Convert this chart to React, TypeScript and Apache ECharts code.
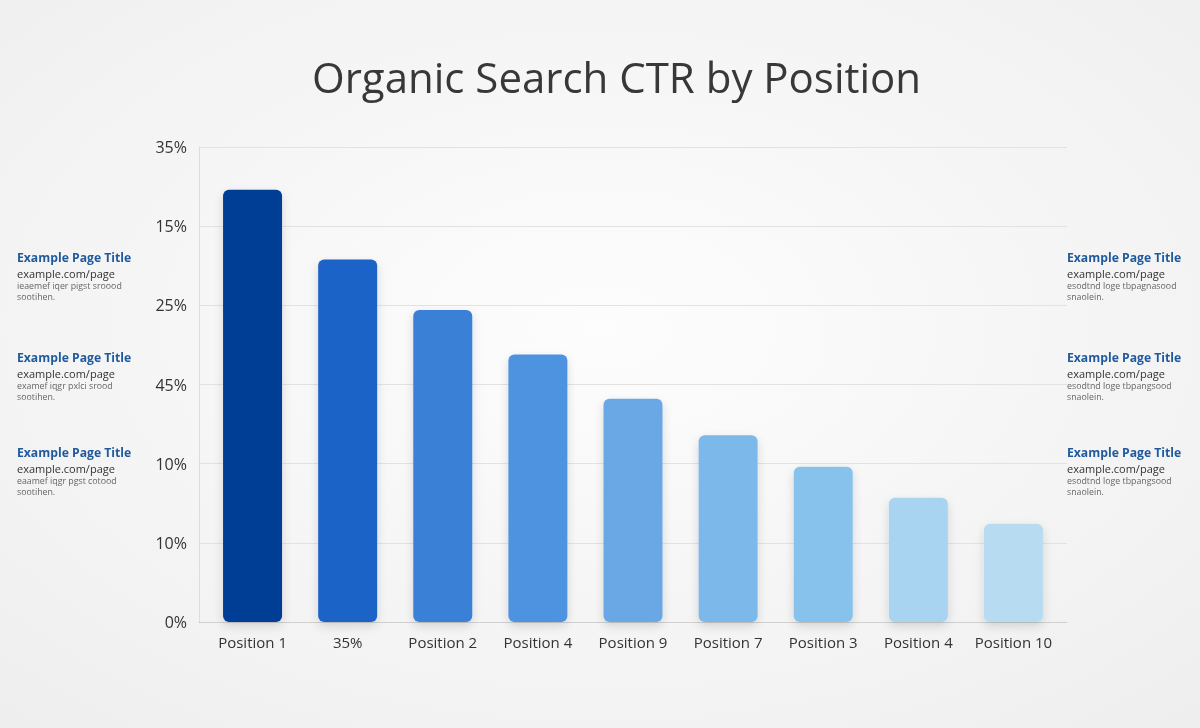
import React, { useEffect, useRef } from "react";
import * as echarts from "echarts";

const titleText = "Organic Search CTR by Position";
const categories = [
  "Position 1",
  "35%",
  "Position 2",
  "Position 4",
  "Position 9",
  "Position 7",
  "Position 3",
  "Position 4",
  "Position 10",
];
const ctrValues = [27.3, 22.9, 19.7, 16.9, 14.1, 11.8, 9.8, 7.85, 6.2];
const yTickLabels = ["0%", "10%", "10%", "45%", "25%", "15%", "35%"];
const barColors = [
  "#063E95",
  "#1D64C8",
  "#3B80D7",
  "#4D93DF",
  "#69A8E4",
  "#7BB8E9",
  "#87C2EC",
  "#A8D3F1",
  "#B7DCF2",
];
const snippetTitles = ["Example Page Title", "Example Page Title", "Example Page Title"];
const snippetUrls = ["example.com/page", "example.com/page", "example.com/page"];
const leftDescLines = [
  ["ieaemef iqer pigst sroood", "sootihen."],
  ["examef iqgr pxlci srood", "sootihen."],
  ["eaamef iqgr pgst cotood", "sootihen."],
];
const rightDescLines = [
  ["esodtnd loge tbpagnasood", "snaolein."],
  ["esodtnd loge tbpangsood", "snaolein."],
  ["esodtnd loge tbpangsood", "snaolein."],
];
const snippetCenters = [257, 357, 452];

const FONT = "'Open Sans', 'Noto Sans', sans-serif";

function snippetBlock(x: number, cy: number, t: string, u: string, d: string[]) {
  return {
    type: "group",
    children: [
      {
        type: "text",
        x,
        y: cy,
        style: {
          text: t,
          font: `bold 12.2px ${FONT}`,
          fill: "#1F5A9E",
          textVerticalAlign: "middle",
        },
      },
      {
        type: "text",
        x,
        y: cy + 16,
        style: {
          text: u,
          font: `11px ${FONT}`,
          fill: "#333333",
          textVerticalAlign: "middle",
        },
      },
      {
        type: "text",
        x,
        y: cy + 29,
        style: {
          text: d[0],
          font: `8.8px ${FONT}`,
          fill: "#666666",
          textVerticalAlign: "middle",
        },
      },
      {
        type: "text",
        x,
        y: cy + 40,
        style: {
          text: d[1],
          font: `8.8px ${FONT}`,
          fill: "#666666",
          textVerticalAlign: "middle",
        },
      },
    ],
  };
}

export default function App() {
  const ref = useRef<HTMLDivElement>(null);

  useEffect(() => {
    if (!ref.current) return;
    const chart = echarts.init(ref.current, undefined, { renderer: "svg" });

    const graphics: any[] = [
      {
        type: "rect",
        z: -100,
        silent: true,
        shape: { x: 0, y: 0, width: 1200, height: 728 },
        style: {
          fill: {
            type: "radial",
            x: 0.5,
            y: 0.45,
            r: 0.75,
            colorStops: [
              { offset: 0, color: "#fdfdfd" },
              { offset: 1, color: "#eeeeee" },
            ],
          },
        },
      },
    ];
    snippetCenters.forEach((cy, i) => {
      graphics.push(snippetBlock(17, cy, snippetTitles[i], snippetUrls[i], leftDescLines[i]));
      graphics.push(snippetBlock(1067, cy, snippetTitles[i], snippetUrls[i], rightDescLines[i]));
    });

    chart.setOption({
      animation: false,
      title: {
        text: titleText,
        left: 312,
        top: 55,
        padding: 0,
        textStyle: {
          fontFamily: FONT,
          fontSize: 42,
          fontWeight: 400,
          color: "#383838",
        },
      },
      graphic: graphics,
      grid: [
        { left: 205, top: 147, width: 856, height: 475 },
        { left: 199, top: 147, width: 868, height: 475 },
      ],
      xAxis: [
        {
          type: "category",
          gridIndex: 0,
          data: categories,
          axisLine: { show: false },
          axisTick: { show: false },
          axisLabel: {
            interval: 0,
            margin: 12,
            fontFamily: FONT,
            fontSize: 15,
            color: "#333333",
          },
        },
        {
          type: "value",
          gridIndex: 1,
          min: 0,
          max: 1,
          axisLine: { show: true, lineStyle: { color: "#d0d0d0", width: 1 } },
          axisTick: { show: false },
          axisLabel: { show: false },
          splitLine: { show: false },
        },
      ],
      yAxis: [
        {
          type: "value",
          gridIndex: 0,
          min: 0,
          max: 30,
          interval: 5,
          offset: 6,
          axisLine: { show: true, lineStyle: { color: "#dcdcdc", width: 1 } },
          axisTick: { show: false },
          splitLine: { show: false },
          axisLabel: {
            margin: 12,
            fontFamily: FONT,
            fontSize: 16,
            color: "#333333",
            formatter: (v: number) => yTickLabels[Math.round(v / 5)] ?? "",
          },
        },
        {
          type: "value",
          gridIndex: 1,
          min: 0,
          max: 30,
          interval: 5,
          axisLine: { show: false },
          axisTick: { show: false },
          axisLabel: { show: false },
          splitLine: { show: true, lineStyle: { color: "#e2e2e2", width: 1 } },
        },
      ],
      series: [
        {
          type: "line",
          xAxisIndex: 1,
          yAxisIndex: 1,
          data: [],
          silent: true,
        },
        {
          type: "bar",
          xAxisIndex: 0,
          yAxisIndex: 0,
          barWidth: 59,
          data: ctrValues.map((v, i) => ({
            value: v,
            itemStyle: {
              color: barColors[i],
              borderRadius: 6,
              shadowBlur: 10,
              shadowOffsetY: 4,
              shadowColor: "rgba(0,0,0,0.14)",
            },
          })),
        },
      ],
    });

    return () => chart.dispose();
  }, []);

  return (
    <div
      ref={ref}
      style={{ position: "fixed", left: 0, top: 0, width: 1200, height: 728 }}
    />
  );
}
